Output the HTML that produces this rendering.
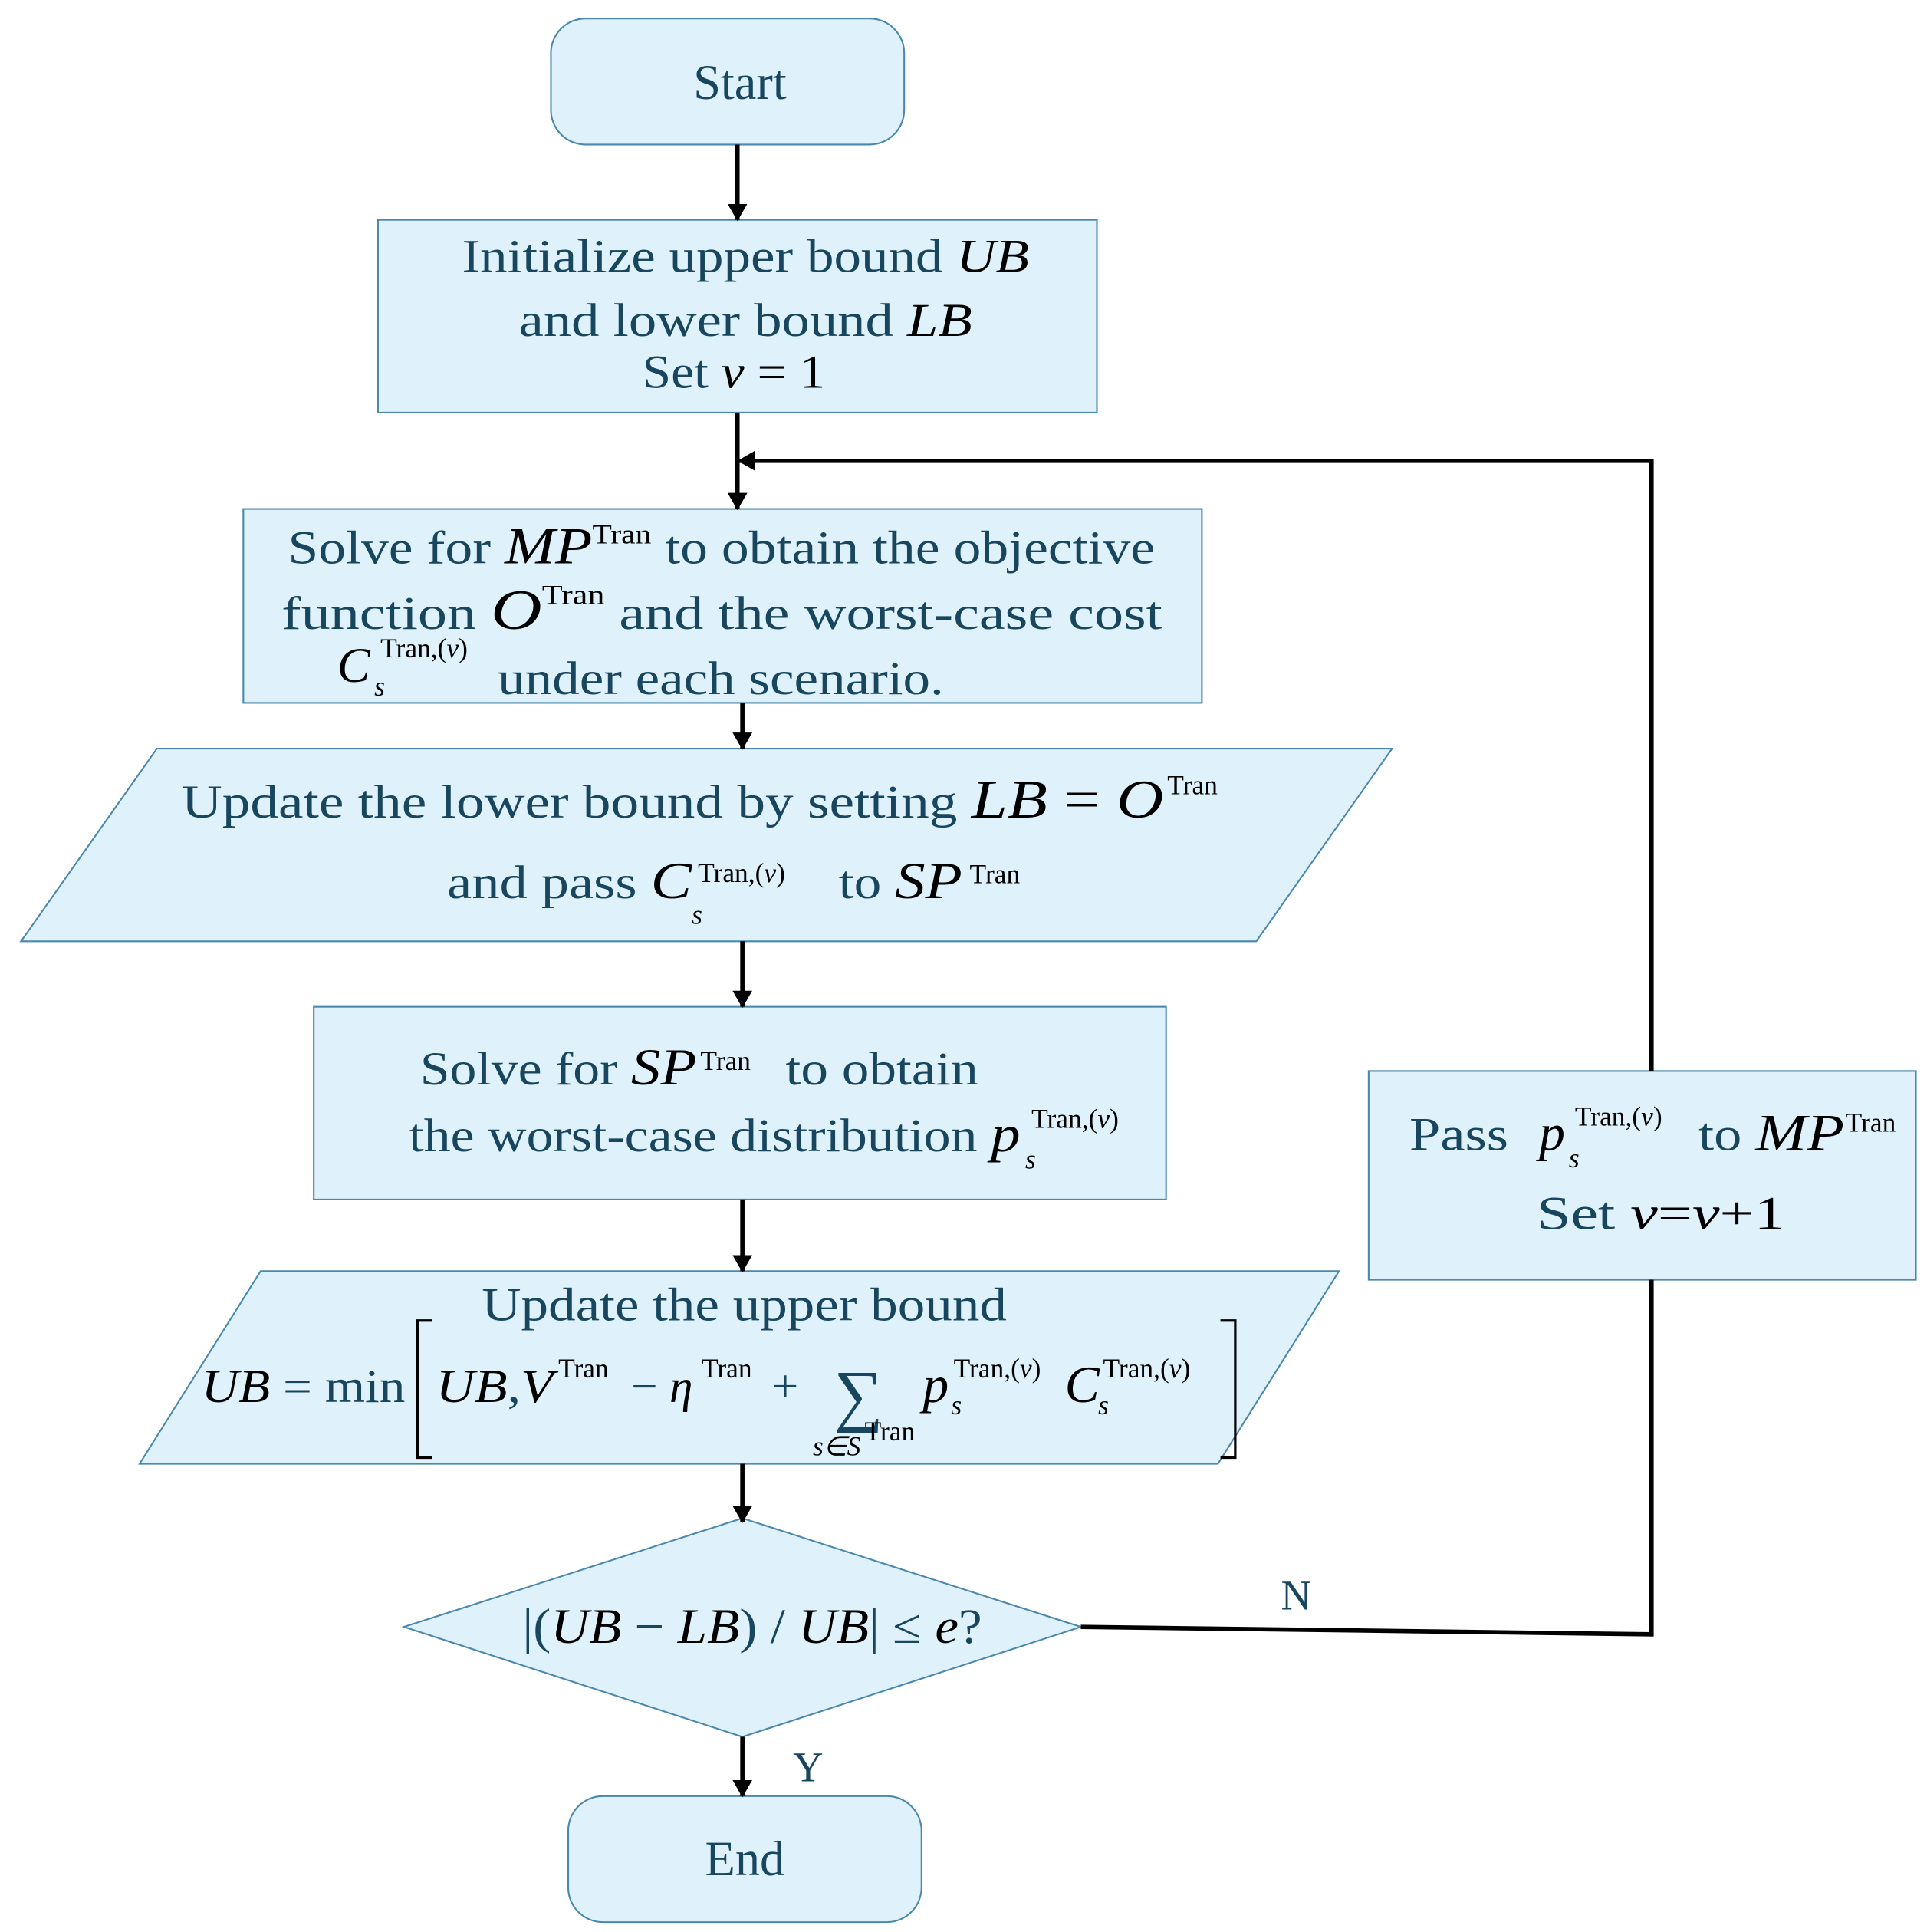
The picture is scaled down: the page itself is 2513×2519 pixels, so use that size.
<!DOCTYPE html>
<html><head><meta charset="utf-8"><style>
html,body{margin:0;padding:0;background:#fff}
svg{display:block}
text{font-family:"Liberation Serif",serif;fill:#17465e}
.m{font-style:italic;fill:#000}
.s{font-size:22px;fill:#000;font-style:normal}
.si{font-size:22px;fill:#000;font-style:italic}
</style></head><body>
<svg width="2513" height="2519" viewBox="0 0 1560 1564" preserveAspectRatio="none" xmlns="http://www.w3.org/2000/svg">
<defs><marker id="a" markerWidth="14" markerHeight="16" refX="13" refY="8" orient="auto" markerUnits="userSpaceOnUse"><path d="M0,0 L14,8 L0,16 z" fill="#000"/></marker></defs>
<g fill="#dff2fb" stroke="#4a88ad" stroke-width="1.3">
<rect x="446" y="15" width="286" height="102" rx="28"/>
<rect x="306" y="178" width="582" height="156"/>
<rect x="197" y="412" width="776" height="157"/>
<polygon points="127,606 1127,606 1017,762 17,762"/>
<rect x="254" y="815" width="690" height="156"/>
<polygon points="211,1029 1084,1029 986,1185 113,1185"/>
<polygon points="601,1229 875,1317 601,1406 327,1317"/>
<rect x="460" y="1454" width="286" height="102" rx="28"/>
<rect x="1108" y="867" width="443" height="169"/>
</g>
<g stroke="#000" stroke-width="3.5" fill="none">
<line x1="597" y1="117" x2="597" y2="178" marker-end="url(#a)"/>
<line x1="597" y1="334" x2="597" y2="412" marker-end="url(#a)"/>
<line x1="601" y1="569" x2="601" y2="606" marker-end="url(#a)"/>
<line x1="601" y1="762" x2="601" y2="815" marker-end="url(#a)"/>
<line x1="601" y1="971" x2="601" y2="1029" marker-end="url(#a)"/>
<line x1="601" y1="1185" x2="601" y2="1232" marker-end="url(#a)"/>
<line x1="601" y1="1406" x2="601" y2="1454" marker-end="url(#a)"/>
<polyline points="1337,867 1337,373 598,373" marker-end="url(#a)"/>
<polyline points="875,1317 1337,1323 1337,1036"/>
</g>
<text x="599" y="80" font-size="40" text-anchor="middle">Start</text>
<text x="603" y="1518" font-size="40" text-anchor="middle">End</text>
<g font-size="38">
<text x="374" y="220" textLength="459" lengthAdjust="spacingAndGlyphs">Initialize upper bound <tspan class="m">UB</tspan></text>
<text x="420" y="272" textLength="367" lengthAdjust="spacingAndGlyphs">and lower bound <tspan class="m">LB</tspan></text>
<text x="520" y="314" textLength="148" lengthAdjust="spacingAndGlyphs">Set <tspan class="m">v</tspan><tspan fill="#000"> = 1</tspan></text>

<text x="233" y="456" textLength="702" lengthAdjust="spacingAndGlyphs">Solve for <tspan class="m" font-size="42">MP</tspan><tspan class="s" dy="-16">Tran</tspan><tspan dy="16"> to obtain the objective</tspan></text>
<text x="228" y="509" textLength="713" lengthAdjust="spacingAndGlyphs">function <tspan class="m" font-size="46">O</tspan><tspan class="s" dy="-20">Tran</tspan><tspan dy="20">   and the worst-case cost</tspan></text>
<text x="273" y="552" class="m" font-size="40">C</text><text x="303" y="563" class="si">s</text><text x="308" y="532" class="s">Tran,(<tspan font-style="italic">v</tspan>)</text>
<text x="403" y="562" textLength="361" lengthAdjust="spacingAndGlyphs">under each scenario.</text>

<text x="147" y="662" textLength="795" lengthAdjust="spacingAndGlyphs">Update the lower bound by setting <tspan class="m" font-size="44">LB</tspan><tspan fill="#000" font-size="44"> = </tspan><tspan class="m" font-size="44">O</tspan></text><text x="945" y="643" class="s" font-size="24">Tran</text>
<text x="362" y="727" font-size="38" textLength="198" lengthAdjust="spacingAndGlyphs">and pass <tspan class="m" font-size="42">C</tspan></text><text x="560" y="748" class="si">s</text><text x="565" y="714" class="s">Tran,(<tspan font-style="italic">v</tspan>)</text><text x="679" y="727" textLength="100" lengthAdjust="spacingAndGlyphs">to <tspan class="m" font-size="42">SP</tspan></text><text x="785" y="715" class="s">Tran</text>

<text x="340" y="878" textLength="224" lengthAdjust="spacingAndGlyphs">Solve for <tspan class="m" font-size="42">SP</tspan></text><text x="567" y="866" class="s">Tran</text><text x="636" y="878" textLength="156" lengthAdjust="spacingAndGlyphs">to obtain</text>
<text x="331" y="932" textLength="495" lengthAdjust="spacingAndGlyphs">the worst-case distribution <tspan class="m" font-size="42">p</tspan></text><text x="830" y="946" class="si">s</text><text x="835" y="913" class="s">Tran,(<tspan font-style="italic">v</tspan>)</text>

<text x="390" y="1069" textLength="425" lengthAdjust="spacingAndGlyphs">Update the upper bound</text>
<text x="163" y="1135" fill="#000" textLength="165" lengthAdjust="spacingAndGlyphs"><tspan class="m">UB</tspan> = min</text>
<path d="M350,1069 h-12 v111 h12 M988,1069 h12 v111 h-12" stroke="#000" stroke-width="2" fill="none"/>
<text x="353" y="1135" fill="#000" textLength="95" lengthAdjust="spacingAndGlyphs"><tspan class="m">UB</tspan>,<tspan class="m">V</tspan></text><text x="452" y="1115" class="s">Tran</text>
<text x="511" y="1135" fill="#000">− <tspan class="m">η</tspan></text><text x="568" y="1115" class="s">Tran</text>
<text x="625" y="1135" fill="#000">+</text>
<text x="675" y="1148" fill="#000" font-size="56">∑</text>
<text x="658" y="1178" class="si" font-size="18">s∈S</text><text x="700" y="1166" class="s" font-size="16">Tran</text>
<text x="747" y="1135" class="m" font-size="42">p</text><text x="770" y="1145" class="si">s</text><text x="772" y="1115" class="s">Tran,(<tspan font-style="italic">v</tspan>)</text>
<text x="862" y="1135" class="m" font-size="42">C</text><text x="889" y="1145" class="si">s</text><text x="893" y="1115" class="s">Tran,(<tspan font-style="italic">v</tspan>)</text>

<text x="423" y="1330" fill="#000" font-size="40" textLength="372" lengthAdjust="spacingAndGlyphs">|(<tspan class="m">UB</tspan> − <tspan class="m">LB</tspan>) / <tspan class="m">UB</tspan>| ≤ <tspan class="m">e</tspan>?</text>

<text x="1141" y="931" textLength="80" lengthAdjust="spacingAndGlyphs">Pass</text><text x="1246" y="931" class="m" font-size="42">p</text><text x="1270" y="945" class="si">s</text><text x="1275" y="911" class="s">Tran,(<tspan font-style="italic">v</tspan>)</text>
<text x="1375" y="931" textLength="118" lengthAdjust="spacingAndGlyphs">to <tspan class="m" font-size="42">MP</tspan></text><text x="1494" y="916" class="s">Tran</text>
<text x="1244" y="995" textLength="201" lengthAdjust="spacingAndGlyphs">Set <tspan class="m">v</tspan><tspan fill="#000">=</tspan><tspan class="m">v</tspan><tspan fill="#000">+1</tspan></text>
</g>
<text x="1037" y="1303" font-size="34">N</text>
<text x="642" y="1442" font-size="34">Y</text>
</svg>
</body></html>
